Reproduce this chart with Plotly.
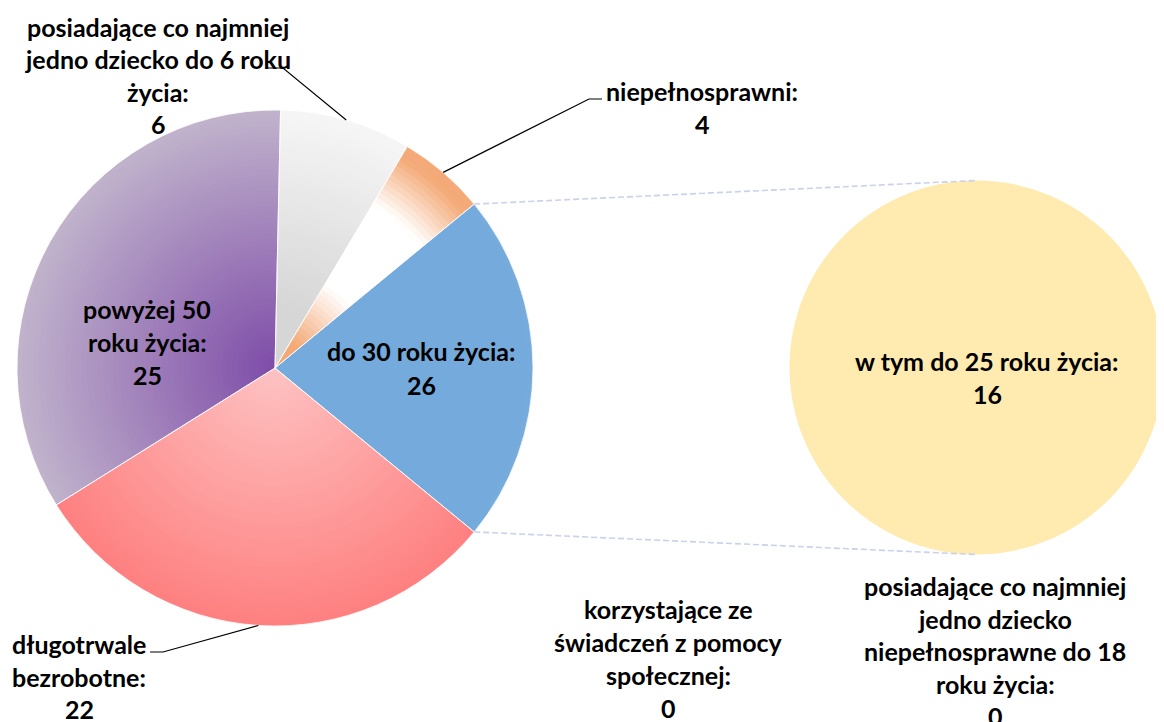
import math
import textwrap
import numpy as np
import plotly.graph_objects as go

# ---------------- data ----------------
main_categories = [
    "posiadające co najmniej jedno dziecko do 6 roku życia",
    "niepełnosprawni",
    "do 30 roku życia",
    "długotrwale bezrobotne",
    "powyżej 50 roku życia",
]
main_values = [6, 4, 26, 22, 25]
split_category = "do 30 roku życia"  # slice opened into the secondary pie

sub_categories = [
    "w tym do 25 roku życia",
    "korzystające ze świadczeń z pomocy społecznej",
    "posiadające co najmniej jedno dziecko niepełnosprawne do 18 roku życia",
]
sub_values = [16, 0, 0]

# pie-of-pie: the split slice is drawn with the sum of the secondary pie
slice_values = [sum(sub_values) if c == split_category else v
                for c, v in zip(main_categories, main_values)]

# ---------------- layout / style ----------------
PAGE_OFF = 8  # default body margin of the html page
W, H = 1164 - PAGE_OFF, 722 - PAGE_OFF
MAIN_C = (275.0, 368.0)      # page pixels
MAIN_R = 258.0
SUB_C = (976.5, 367.5)
SUB_R = 187.0
N_RINGS = 48
FONT = "Lato"
FSIZE = 25
Y_OFF = -3.0  # visual x-height centre -> annotation middle

total = float(sum(slice_values))
split_idx = main_categories.index(split_category)
split_mid = (sum(slice_values[:split_idx]) + slice_values[split_idx] / 2.0) / total * 360.0
ROT = 90.0 - split_mid  # Excel centres the split slice at 3 o'clock

bounds = []
acc = 0.0
for v in slice_values:
    a0 = ROT + acc / total * 360.0
    acc += v
    a1 = ROT + acc / total * 360.0
    bounds.append((a0, a1))


def hx(c):
    c = c.lstrip("#")
    return np.array([int(c[i:i + 2], 16) for i in (0, 2, 4)], dtype=float)


def lerp(c1, c2, t):
    t = min(max(t, 0.0), 1.0)
    return hx(c1) * (1 - t) + hx(c2) * t


def axis_t(x, y, A, B):
    d = np.array(B) - np.array(A)
    p = np.array([x, y]) - np.array(A)
    return float(p @ d / (d @ d))


def grad_color(i, x, y):
    cx, cy = MAIN_C
    if i == 0:
        return lerp("#F8F8F8", "#D6D6D6", (y - 110) / 200.0)
    if i == 1:
        rr = math.hypot(x - cx, y - cy) / MAIN_R
        if rr < 0.12:
            f = 1.0
        elif rr < 0.38:
            f = 1 - (rr - 0.12) / 0.26
        elif rr < 0.74:
            f = 0.0
        elif rr < 0.95:
            f = (rr - 0.74) / 0.21
        else:
            f = 1.0
        return lerp("#FFFFFF", "#F4AA78", f)
    if i == 2:
        return lerp("#9DC3E6", "#5B9BD5", (y - 205) / 265.0)
    if i == 3:
        return lerp("#FF3B3B", "#FDE8E8", axis_t(x, y, (80, 590), (380, 380)))
    return lerp("#D9D9D9", "#7E4CA8", axis_t(x, y, (0, 260), MAIN_C))


def cell_color(i, r_in, r_out):
    a0, a1 = bounds[i]
    cx, cy = MAIN_C
    acc_c = np.zeros(3)
    wsum = 0.0
    for a in np.linspace(a0, a1, 14)[1:-1]:
        for r in np.linspace(r_in, r_out, 5):
            rr = max(r, 0.5)
            ar = math.radians(a)
            x = cx + rr * math.sin(ar)
            y = cy - rr * math.cos(ar)
            acc_c += grad_color(i, x, y) * rr
            wsum += rr
    c = acc_c / wsum
    return "rgb(%d,%d,%d)" % tuple(int(round(v)) for v in c)


def P(x, y):
    """page pixel -> paper coordinates"""
    return (x - PAGE_OFF) / W, 1 - (y - PAGE_OFF) / H


def dom(c, r):
    x0, y0 = P(c[0] - r, c[1] + r)
    x1, y1 = P(c[0] + r, c[1] - r)
    return dict(x=[x0, x1], y=[y0, y1])


def rim(a_deg, r=MAIN_R, c=MAIN_C):
    ar = math.radians(a_deg)
    return c[0] + r * math.sin(ar), c[1] - r * math.cos(ar)


fig = go.Figure()

# main pie, drawn as stacked rings to imitate Excel gradient fills
radii = [MAIN_R * (N_RINGS - k) / N_RINGS for k in range(N_RINGS)]
for k, r in enumerate(radii):
    r_in = radii[k + 1] if k + 1 < N_RINGS else 0.0
    colors = [cell_color(i, r_in, r) for i in range(len(slice_values))]
    fig.add_trace(go.Pie(
        values=slice_values, labels=main_categories, sort=False,
        direction="clockwise", rotation=ROT, domain=dom(MAIN_C, r),
        marker=dict(colors=colors, line=dict(width=0)),
        textinfo="none", hoverinfo="skip", showlegend=False,
    ))

# outline / hover layer
fig.add_trace(go.Pie(
    values=slice_values, labels=main_categories, sort=False,
    direction="clockwise", rotation=ROT, domain=dom(MAIN_C, MAIN_R),
    customdata=main_values,
    marker=dict(colors=["rgba(0,0,0,0)"] * len(slice_values),
                line=dict(width=1, color="rgba(255,255,255,0.8)")),
    textinfo="none", hovertemplate="%{label}: %{customdata}<extra></extra>",
    showlegend=False,
))

# secondary pie
fig.add_trace(go.Pie(
    values=sub_values, labels=sub_categories, sort=False,
    direction="clockwise", domain=dom(SUB_C, SUB_R),
    marker=dict(colors=["#FFEBAF", "#FFE08C", "#FFE699"], line=dict(width=0)),
    textinfo="none", hovertemplate="%{label}: %{value}<extra></extra>",
    showlegend=False,
))

# ---------------- labels ----------------
MAIN_LABEL_POS = {0: (158, 30, 32.5, 23), 1: (702, 94, 33, 16), 2: (421, 354, 34, 20),
                  3: (79, 647, 32.5, 11), 4: (147, 312, 33, 11)}
SUB_LABEL_POS = {0: (987, 364, 33, 23), 1: (668, 612, 33, 18), 2: (995, 589, 32.5, 23)}

annotations = []


def add_label(cat, val, spec):
    cx, y0, step, wrap = spec
    lines = textwrap.wrap(cat + ":", wrap) + [str(val)]
    for j, ln in enumerate(lines):
        x, y = P(cx, y0 + j * step + Y_OFF)
        annotations.append(dict(
            x=x, y=y, xref="paper", yref="paper", text="<b>%s</b>" % ln,
            showarrow=False, xanchor="center", yanchor="middle",
            font=dict(family=FONT, size=FSIZE, color="#000000"),
        ))


for i, (c, v) in enumerate(zip(main_categories, main_values)):
    add_label(c, v, MAIN_LABEL_POS[i])
for i, (c, v) in enumerate(zip(sub_categories, sub_values)):
    add_label(c, v, SUB_LABEL_POS[i])

# leader lines
LEADERS = {0: [(267, 68), (283, 68)], 1: [(602, 99), (589, 99)], 3: [(150, 652), (163, 652)]}
shapes = []
for i, pts in LEADERS.items():
    a0, a1 = bounds[i]
    end = rim((a0 + a1) / 2.0)
    path_pts = pts + [end]
    d = "M " + " L ".join("%f,%f" % P(*p) for p in path_pts)
    shapes.append(dict(type="path", path=d, xref="paper", yref="paper",
                       line=dict(color="#000000", width=1.2)))

# connector lines between pies
a0, a1 = bounds[split_idx]
for a, target in ((a0, (SUB_C[0], SUB_C[1] - SUB_R)), (a1, (SUB_C[0], SUB_C[1] + SUB_R))):
    s = rim(a)
    x0, y0 = P(*s)
    x1, y1 = P(*target)
    shapes.append(dict(type="line", x0=x0, y0=y0, x1=x1, y1=y1, xref="paper", yref="paper",
                       line=dict(color="#C8D2EC", width=1.6, dash="6px,3px")))

fig.update_layout(
    width=W, height=H, margin=dict(l=0, r=0, t=0, b=0),
    paper_bgcolor="#FFFFFF", plot_bgcolor="#FFFFFF",
    showlegend=False, annotations=annotations, shapes=shapes,
)

fig.write_html("out.html")
